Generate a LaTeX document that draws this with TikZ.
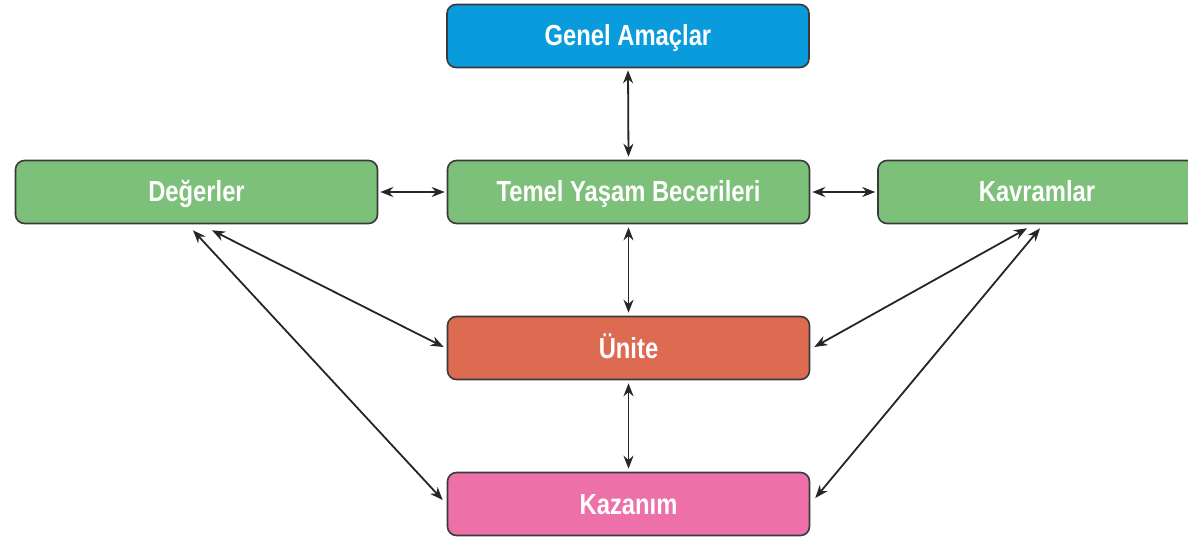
\documentclass[tikz,border=0pt]{standalone}
\usepackage{fontspec}
\setmainfont{Liberation Sans}[FakeStretch=0.82]
\usetikzlibrary{arrows.meta}
\definecolor{cblue}{HTML}{0A9BDC}
\definecolor{cgreen}{HTML}{7DC07A}
\definecolor{cred}{HTML}{DC6B52}
\definecolor{cpink}{HTML}{EE70A9}
\definecolor{cedge}{HTML}{3A3A3A}
\tikzset{
  box/.style={draw=cedge, line width=1.6pt, rounded corners=9pt,
    minimum width=362pt, minimum height=63pt, inner sep=0pt,
    text height=20pt, text depth=0pt,
    text=white, font=\fontsize{29}{32}\selectfont\bfseries},
  conn/.style={line width=1.8pt, draw=black!85,
    {Stealth[length=13pt,width=10pt]}-{Stealth[length=13pt,width=10pt]}},
}
\begin{document}
\begin{tikzpicture}[x=1pt,y=-1pt]
\clip (0,0) rectangle (1188,537);
\fill[white] (0,0) rectangle (1188,537);
\node[box, fill=cblue] (gen) at (628,36) {Genel Amaçlar};
\node[box, fill=cgreen] (deg) at (196.5,192) {Değerler};
\node[box, fill=cgreen] (tem) at (628.5,192) {Temel Yaşam Becerileri};
\node[box, fill=cgreen, minimum width=318pt] (kav) at (1037,192) {Kavramlar};
\node[box, fill=cred] (uni) at (628.5,348) {Ünite};
\node[box, fill=cpink] (kaz) at (628.5,504) {Kazanım};

\draw[conn, shorten <=2pt, shorten >=3pt] (gen.south) -- (tem.north);
\draw[conn, shorten <=2pt, shorten >=2pt] (deg.east) -- (tem.west);
\draw[conn, shorten <=2pt, shorten >=2pt] (tem.east) -- (kav.west);
\draw[conn, shorten <=3pt, shorten >=3pt] (tem.south) -- (uni.north);
\draw[conn, shorten <=3pt, shorten >=3pt] (uni.south) -- (kaz.north);

\draw[conn] ([xshift=15.5pt,yshift=-6pt]deg.south) -- ([xshift=-3pt,yshift=1pt]uni.west);
\draw[conn] ([xshift=-3.5pt,yshift=-6pt]deg.south) -- ([xshift=-4pt,yshift=4pt]kaz.west);
\draw[conn] ([xshift=-10pt,yshift=-4pt]kav.south) -- ([xshift=4pt,yshift=1pt]uni.east);
\draw[conn] ([xshift=3pt,yshift=-4pt]kav.south) -- ([xshift=5pt,yshift=6pt]kaz.east);
\end{tikzpicture}
\end{document}
